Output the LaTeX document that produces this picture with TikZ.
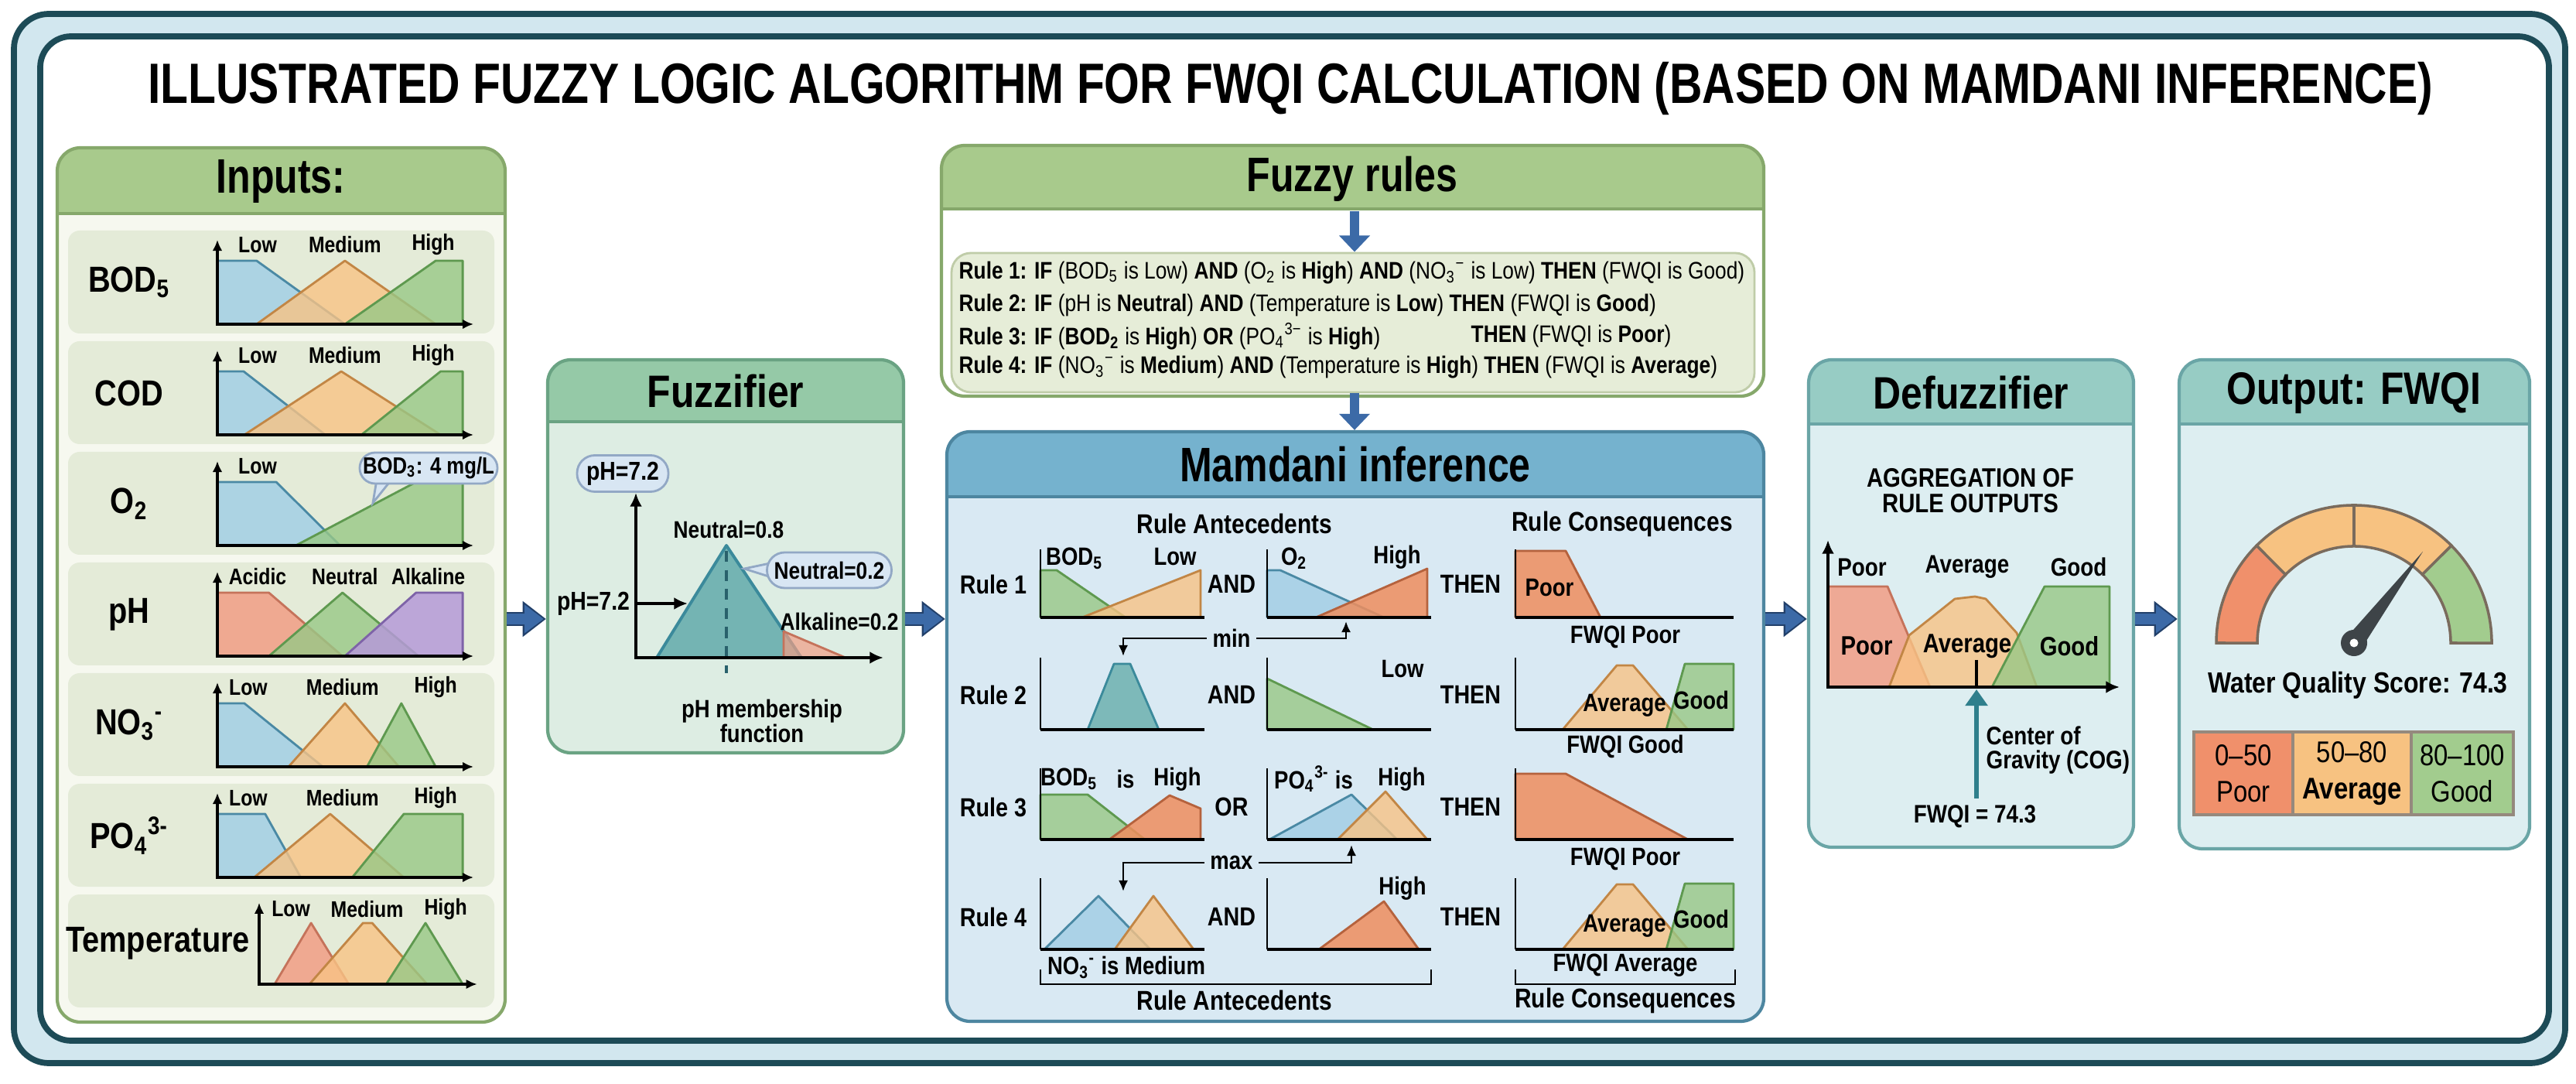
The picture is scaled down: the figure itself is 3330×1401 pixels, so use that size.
\documentclass[tikz,border=0pt]{standalone}
\usepackage{fontspec}
\setmainfont{Liberation Sans}[FakeStretch=0.85]
\newfontfamily\cnd{Liberation Sans}[FakeStretch=0.8]
\usetikzlibrary{arrows.meta,fit,calc}
\definecolor{frameD}{HTML}{1D4B57}
\definecolor{frameB}{HTML}{D2E7EF}
\definecolor{inpH}{HTML}{A8CA8C}
\definecolor{inpE}{HTML}{86A86B}
\definecolor{inpB}{HTML}{F6F8EF}
\definecolor{inpR}{HTML}{E4EBD8}
\definecolor{ruleBx}{HTML}{E6EDD8}
\definecolor{ruleBe}{HTML}{BFCCA8}
\definecolor{fuzH}{HTML}{95C9A7}
\definecolor{fuzB}{HTML}{DDEDE3}
\definecolor{fuzE}{HTML}{6AA383}
\definecolor{mamH}{HTML}{75B2CE}
\definecolor{mamB}{HTML}{D9E9F3}
\definecolor{mamE}{HTML}{4D86A0}
\definecolor{defH}{HTML}{97CCC4}
\definecolor{defB}{HTML}{DDEEF1}
\definecolor{defE}{HTML}{6AA5A6}
\definecolor{bluF}{HTML}{A3CFE5}
\definecolor{bluE}{HTML}{4A89A4}
\definecolor{orgF}{HTML}{F8C385}
\definecolor{orgE}{HTML}{C28645}
\definecolor{grnF}{HTML}{98C886}
\definecolor{grnE}{HTML}{5E994F}
\definecolor{redF}{HTML}{F29E85}
\definecolor{redE}{HTML}{C5735B}
\definecolor{purF}{HTML}{B69AD8}
\definecolor{purE}{HTML}{7E63A8}
\definecolor{mrdF}{HTML}{EF8E5E}
\definecolor{mrdE}{HTML}{B5623D}
\definecolor{tealF}{HTML}{74B4B3}
\definecolor{tealE}{HTML}{3B8A9B}
\definecolor{callF}{HTML}{D8E6F3}
\definecolor{callE}{HTML}{92A8C5}
\definecolor{arrB}{HTML}{3C6AA7}
\definecolor{arrD}{HTML}{22406A}
\definecolor{gRed}{HTML}{F0906B}
\definecolor{gOrg}{HTML}{F7C281}
\definecolor{gGrn}{HTML}{A2CC8E}
\definecolor{gEdge}{HTML}{7A6B5D}
\definecolor{needleC}{HTML}{3E4448}
\definecolor{cogT}{HTML}{2F7F8C}
\newcommand\fsz[1]{\fontsize{#1}{#1}\selectfont}
\newcommand\panelbox[9]{%
  \begin{scope}
    \clip[rounded corners=0.3cm] (#2,#3) rectangle (#4,#5);
    \fill[#8] (#2,#3) rectangle (#4,#5);
    \fill[#7] (#2,#3) rectangle (#4,#6);
    \draw[#9, line width=1pt] (#2,#6) -- (#4,#6);
  \end{scope}
  \node[fit={(#2,#3) (#4,#5)}, inner sep=0pt, draw=#9, line width=1.2pt, rounded corners=0.3cm] (#1) {};
}
\tikzset{
  ptitle/.style={font=\fsz{16.7}\bfseries, inner sep=0pt},
  ctitle/.style={font=\cnd\fsz{17.8}\bfseries, inner sep=0pt},
  rowlab/.style={font=\fsz{13.3}\bfseries, inner sep=0pt},
  mflab/.style={font=\fsz{8.3}\bfseries, inner sep=0pt},
  iaxis/.style={line width=1.1pt, {Latex[length=4pt,width=3.6pt]}-{Latex[length=4pt,width=3.6pt]}},
  mfB/.style={fill=bluF, draw=bluE, fill opacity=0.85, line width=0.8pt, line join=round},
  mfO/.style={fill=orgF, draw=orgE, fill opacity=0.8, line width=0.8pt, line join=round},
  mfG/.style={fill=grnF, draw=grnE, fill opacity=0.8, line width=0.8pt, line join=round},
  mfR/.style={fill=redF, draw=redE, fill opacity=0.85, line width=0.8pt, line join=round},
  mfP/.style={fill=purF, draw=purE, fill opacity=0.85, line width=0.8pt, line join=round},
  mfM/.style={fill=mrdF, draw=mrdE, fill opacity=0.85, line width=0.8pt, line join=round},
  mfT/.style={fill=tealF, draw=tealE, fill opacity=0.9, line width=0.8pt, line join=round},
  bigarrD/.style={line width=5.4pt, draw=arrD, -{Triangle[length=8.6pt,width=12.6pt]}},
  bigarr/.style={line width=4.0pt, draw=arrB, shorten >=0.9pt, -{Triangle[length=7pt,width=10pt]}},
  smarr/.style={line width=3.6pt, draw=arrB, -{Triangle[length=6pt,width=11pt]}},
  mlab/.style={font=\fsz{9.6}\bfseries, inner sep=0pt},
  glab/.style={font=\fsz{9.2}\bfseries, inner sep=0pt},
  rtxt/.style={font=\fsz{8.8}, inner sep=0pt},
  fztext/.style={font=\fsz{8.8}\bfseries, inner sep=0pt},
  yax/.style={line width=0.7pt},
  xax/.style={line width=1.4pt},
  minarr/.style={line width=0.8pt, -{Latex[length=4pt,width=3.5pt]}},
  callout/.style={fill=callF, draw=callE, line width=0.8pt, inner sep=0pt},
  dlab/.style={font=\fsz{9.3}\bfseries, inner sep=0pt},
}
\begin{document}
\begin{tikzpicture}[x=0.01cm, y=-0.01cm]
\useasboundingbox (0,0) rectangle (3330,1401);
\fill[white] (0,0) rectangle (3330,1401);
% frame
\draw[frameD, fill=frameB, line width=2.2pt, rounded corners=0.45cm] (18,18) rectangle (3316,1374);
\draw[frameD, fill=white, line width=2.2pt, rounded corners=0.4cm] (52,47) rectangle (3295,1345);
\node[font=\cnd\fsz{20.9}\bfseries, inner sep=0pt] (title) at (1668,115) {ILLUSTRATED FUZZY LOGIC ALGORITHM FOR FWQI CALCULATION (BASED ON MAMDANI INFERENCE)};

% ================= INPUTS =================
\panelbox{inp}{74}{191}{653}{1321}{276}{inpH}{inpB}{inpE}
\node[ctitle] (inpT) at (363,234) {Inputs:};
\foreach \t/\b in {298/431,441/574,584/717,727/860,870/1003,1013/1146,1156/1302}
  \fill[inpR, rounded corners=0.15cm] (88,\t) rectangle (639,\b);
\node[rowlab] (lBOD) at (167,365) {BOD\textsubscript{5}};
\node[rowlab] (lCOD) at (167,508) {COD};
\node[rowlab] (lO2) at (167,651) {O\textsubscript{2}};
\node[rowlab] (lpH) at (167,794) {pH};
\node[rowlab] (lNO3) at (167,937) {NO\textsubscript{3}\textsuperscript{-}};
\node[rowlab] (lPO4) at (167,1080) {PO\textsubscript{4}\textsuperscript{3-}};
\node[rowlab] (lTemp) at (204,1219) {Temperature};
% BOD5
\begin{scope}[shift={(281,419)}, x=0.0317cm, y=0.0082cm]
  \filldraw[mfB] (0,0) -- (0,100) -- (16,100) -- (52,0) -- cycle;
  \filldraw[mfO] (16,0) -- (52,100) -- (89,0) -- cycle;
  \filldraw[mfG] (52,0) -- (89,100) -- (100,100) -- (100,0) -- cycle;
  \draw[iaxis] (0,133) -- (0,0) -- (104.4,0);
  \node[mflab] (b1a) at (16.4,125) {Low};
  \node[mflab] (b1b) at (52,125) {Medium};
  \node[mflab] (b1c) at (88,125) {High};
\end{scope}
% COD
\begin{scope}[shift={(281,562)}, x=0.0317cm, y=0.0082cm]
  \filldraw[mfB] (0,0) -- (0,100) -- (10.7,100) -- (44,0) -- cycle;
  \filldraw[mfO] (11,0) -- (50.5,100) -- (91,0) -- cycle;
  \filldraw[mfG] (58.7,0) -- (91,100) -- (100,100) -- (100,0) -- cycle;
  \draw[iaxis] (0,133) -- (0,0) -- (104.4,0);
  \node[mflab] (b2a) at (16.4,125) {Low};
  \node[mflab] (b2b) at (52,125) {Medium};
  \node[mflab] (b2c) at (88,125) {High};
\end{scope}
% O2
\begin{scope}[shift={(281,705)}, x=0.0317cm, y=0.0082cm]
  \filldraw[mfB] (0,0) -- (0,100) -- (24,100) -- (50,0) -- cycle;
  \filldraw[mfG] (32,0) -- (81,100) -- (100,100) -- (100,0) -- cycle;
  \draw[iaxis] (0,133) -- (0,0) -- (104.4,0);
  \node[mflab] (b3a) at (16.4,125) {Low};
\end{scope}
\filldraw[callout] (487,620) -- (482,650) -- (506,620) -- cycle;
\node[callout, minimum width=1.78cm, minimum height=0.40cm, rounded corners=0.2cm, font=\fsz{8.6}\bfseries] (o2c) at (554,605) {BOD\textsubscript{3}: 4 mg/L};
% pH
\begin{scope}[shift={(281,848)}, x=0.0317cm, y=0.0082cm]
  \filldraw[mfR] (0,0) -- (0,100) -- (21,100) -- (51,0) -- cycle;
  \filldraw[mfG] (21,0) -- (51,100) -- (82,0) -- cycle;
  \filldraw[mfP] (52,0) -- (81,100) -- (100,100) -- (100,0) -- cycle;
  \draw[iaxis] (0,133) -- (0,0) -- (104.4,0);
  \node[mflab] (b4a) at (16.4,125) {Acidic};
  \node[mflab] (b4b) at (52,125) {Neutral};
  \node[mflab] (b4c) at (86,125) {Alkaline};
\end{scope}
% NO3
\begin{scope}[shift={(281,991)}, x=0.0317cm, y=0.0082cm]
  \filldraw[mfB] (0,0) -- (0,100) -- (11,100) -- (43,0) -- cycle;
  \filldraw[mfO] (29,0) -- (52,100) -- (74,0) -- cycle;
  \filldraw[mfG] (61,0) -- (75,100) -- (89,0) -- cycle;
  \draw[iaxis] (0,133) -- (0,0) -- (104.4,0);
  \node[mflab] (b5a) at (12.6,125) {Low};
  \node[mflab] (b5b) at (51,125) {Medium};
  \node[mflab] (b5c) at (89,125) {High};
\end{scope}
% PO4
\begin{scope}[shift={(281,1134)}, x=0.0317cm, y=0.0082cm]
  \filldraw[mfB] (0,0) -- (0,100) -- (19.5,100) -- (34,0) -- cycle;
  \filldraw[mfO] (15,0) -- (46,100) -- (76,0) -- cycle;
  \filldraw[mfG] (55,0) -- (76,100) -- (100,100) -- (100,0) -- cycle;
  \draw[iaxis] (0,133) -- (0,0) -- (104.4,0);
  \node[mflab] (b6a) at (12.6,125) {Low};
  \node[mflab] (b6b) at (51,125) {Medium};
  \node[mflab] (b6c) at (89,125) {High};
\end{scope}
% Temperature
\begin{scope}[shift={(335,1272)}, x=0.0263cm, y=0.0079cm]
  \filldraw[mfR] (7.6,0) -- (25.5,100) -- (44,0) -- cycle;
  \filldraw[mfO] (24.7,0) -- (51,100) -- (55.5,100) -- (82.5,0) -- cycle;
  \filldraw[mfG] (62.4,0) -- (81.7,100) -- (100,0) -- cycle;
  \draw[iaxis] (0,133) -- (0,0) -- (107,0);
  \node[mflab] (b7a) at (15.6,123) {Low};
  \node[mflab] (b7b) at (53,123) {Medium};
  \node[mflab] (b7c) at (91.6,123) {High};
\end{scope}

% ================= FUZZIFIER =================
\panelbox{fuz}{708}{465}{1168}{973}{545}{fuzH}{fuzB}{fuzE}
\node[ptitle] (fuzT) at (938,506) {Fuzzifier};
\node[callout, minimum width=1.18cm, minimum height=0.47cm, rounded corners=0.23cm, font=\fsz{9.5}\bfseries] (ph1) at (805,612) {pH=7.2};
\filldraw[mfT, fill opacity=1, line width=1.1pt] (849,850) -- (939,705) -- (1036,850) -- cycle;
\filldraw[mfR, fill opacity=0.7] (1013,816) -- (1093,850) -- (1013,850) -- cycle;
\draw[line width=1.3pt, tealE!70!black, dash pattern=on 4pt off 3pt] (939,712) -- (939,870);
\draw[line width=1.2pt, {Latex[length=5pt,width=4.5pt]}-{Latex[length=5pt,width=4.5pt]}] (822,637) -- (822,850) -- (1142,850);
\node[fztext] (n08) at (942,684) {Neutral=0.8};
\filldraw[callout] (1000,727) -- (962,735) -- (1000,747) -- cycle;
\node[callout, minimum width=1.61cm, minimum height=0.46cm, rounded corners=0.23cm, font=\fsz{8.8}\bfseries] (n02) at (1072,737) {Neutral=0.2};
\node[font=\fsz{9.5}\bfseries, inner sep=0pt] (ph2) at (767,780) {pH=7.2};
\coordinate (phs) at (823,780);
\coordinate (pht) at (889,780);
\draw[line width=1.1pt, -{Latex[length=5pt,width=4.5pt]}] (phs) -- (pht);
\node[fztext] (alk) at (1085,803) {Alkaline=0.2};
\node[font=\fontsize{9.2}{9.3}\selectfont\bfseries, align=center, inner sep=0pt] (phm) at (985,932) {pH membership\\function};

% ================= FUZZY RULES =================
\panelbox{rul}{1217}{188}{2280}{512}{270}{inpH}{white}{inpE}
\node[ctitle] (rulT) at (1748,231) {Fuzzy rules};
\node[fit={(1230,327) (2268,507)}, inner sep=0pt, fill=ruleBx, draw=ruleBe, line width=0.8pt, rounded corners=0.25cm] (rulBox) {};
\node[rtxt, anchor=west] (rule1) at (1239,353) {\textbf{Rule 1: IF} (BOD\textsubscript{5} is Low) \textbf{AND} (O\textsubscript{2} is \textbf{High}) \textbf{AND} (NO\textsubscript{3}\textsuperscript{−} is Low) \textbf{THEN} (FWQI is Good)};
\node[rtxt, anchor=west] (rule2) at (1239,395) {\textbf{Rule 2: IF} (pH is \textbf{Neutral}) \textbf{AND} (Temperature is \textbf{Low}) \textbf{THEN} (FWQI is \textbf{Good})};
\node[rtxt, anchor=west] (rule3) at (1239,435) {\textbf{Rule 3: IF} (\textbf{BOD\textsubscript{2}} is \textbf{High}) \textbf{OR} (PO\textsubscript{4}\textsuperscript{3−} is \textbf{High})};
\node[rtxt, anchor=west] (rule3b) at (1901,435) {\textbf{THEN} (FWQI is \textbf{Poor})};
\node[rtxt, anchor=west] (rule4) at (1239,475) {\textbf{Rule 4: IF} (NO\textsubscript{3}\textsuperscript{−} is \textbf{Medium}) \textbf{AND} (Temperature is \textbf{High}) \textbf{THEN} (FWQI is \textbf{Average})};
\coordinate (ra1) at (1751,273);
\draw[smarr] (ra1) -- (rulBox.north -| ra1);

% ================= MAMDANI =================
\panelbox{mam}{1224}{558}{2280}{1320}{642}{mamH}{mamB}{mamE}
\draw[smarr] (rulBox.south -| ra1) -- (mam.north -| ra1);
\node[ctitle] (mamT) at (1752,600) {Mamdani inference};
\node[mlab, font=\fsz{10}\bfseries] (ra) at (1596,677) {Rule Antecedents};
\node[mlab, font=\fsz{10}\bfseries] (rc) at (2097,677) {Rule Consequences};
\node[mlab] (rl1) at (1284,755) {Rule 1};
\node[mlab] (rl2) at (1284,898) {Rule 2};
\node[mlab] (rl3) at (1284,1043) {Rule 3};
\node[mlab] (rl4) at (1284,1185) {Rule 4};
\node[mlab] (op1) at (1592,755) {AND};
\node[mlab] (op2) at (1592,898) {AND};
\node[mlab] (op3) at (1592,1043) {OR};
\node[mlab] (op4) at (1592,1185) {AND};
\node[mlab] (th1) at (1901,755) {THEN};
\node[mlab] (th2) at (1901,898) {THEN};
\node[mlab] (th3) at (1901,1043) {THEN};
\node[mlab] (th4) at (1901,1185) {THEN};
% Rule 1
\filldraw[mfG] (1345,798) -- (1345,737) -- (1366,737) -- (1455,798) -- cycle;
\filldraw[mfO] (1399,798) -- (1552,737) -- (1552,798) -- cycle;
\draw[yax] (1345,710) -- (1345,798); \draw[xax] (1345,798) -- (1557,798);
\node[glab] (g1a) at (1389,722) {BOD\textsubscript{5}};
\node[glab] (g1b) at (1519,720) {Low};
\filldraw[mfB] (1638,798) -- (1638,737) -- (1655,737) -- (1789,798) -- cycle;
\filldraw[mfM] (1701,798) -- (1845,735) -- (1845,798) -- cycle;
\draw[yax] (1638,710) -- (1638,798); \draw[xax] (1638,798) -- (1850,798);
\node[glab] (g1c) at (1673,722) {O\textsubscript{2}};
\node[glab] (g1d) at (1806,720) {High};
\filldraw[mfM] (1959,798) -- (1959,712) -- (2024,712) -- (2069,798) -- cycle;
\draw[yax] (1959,710) -- (1959,798); \draw[xax] (1959,798) -- (2241,798);
\node[glab] (g1e) at (2003,760) {Poor};
\node[glab] (g1f) at (2101,823) {FWQI Poor};
\node[glab, inner sep=2pt] (minl) at (1592,825) {min};
\coordinate (minT1) at (1452,848);
\coordinate (minT2) at (1740,803);
\draw[minarr] (minl.west) -| (minT1);
\draw[minarr] (minl.east) -| (minT2);
% Rule 2
\filldraw[mfT] (1406,943) -- (1440,858) -- (1461,858) -- (1498,943) -- cycle;
\draw[yax] (1345,850) -- (1345,943); \draw[xax] (1345,943) -- (1557,943);
\filldraw[mfG] (1638,943) -- (1638,877) -- (1775,943) -- cycle;
\draw[yax] (1638,850) -- (1638,943); \draw[xax] (1638,943) -- (1850,943);
\node[glab] (g2a) at (1813,865) {Low};
\filldraw[mfO] (2020,943) -- (2090,860) -- (2111,860) -- (2182,943) -- cycle;
\filldraw[mfG] (2154,943) -- (2178,858) -- (2241,858) -- (2241,943) -- cycle;
\draw[yax] (1959,850) -- (1959,943); \draw[xax] (1959,943) -- (2241,943);
\node[glab] (g2b) at (2100,912) {Average};
\node[glab] (g2c) at (2199,905) {Good};
\node[glab] (g2d) at (2101,965) {FWQI Good};
% Rule 3
\filldraw[mfG] (1345,1085) -- (1345,1027) -- (1406,1027) -- (1480,1085) -- cycle;
\filldraw[mfM] (1434,1085) -- (1512,1028) -- (1552,1045) -- (1552,1085) -- cycle;
\draw[yax] (1345,993) -- (1345,1085); \draw[xax] (1345,1085) -- (1557,1085);
\node[glab] (g3a) at (1382,1007) {BOD\textsubscript{5}};
\node[glab] (g3b) at (1455,1007) {is};
\node[glab] (g3c) at (1522,1007) {High};
\filldraw[mfB] (1641,1085) -- (1747,1027) -- (1806,1085) -- cycle;
\filldraw[mfO] (1729,1085) -- (1791,1023) -- (1845,1085) -- cycle;
\draw[yax] (1638,993) -- (1638,1085); \draw[xax] (1638,1085) -- (1850,1085);
\node[glab] (g3d) at (1698,1007) {PO\textsubscript{4}\textsuperscript{3-} is};
\node[glab] (g3e) at (1812,1007) {High};
\filldraw[mfM] (1959,1085) -- (1959,1000) -- (2024,1000) -- (2182,1085) -- cycle;
\draw[yax] (1959,993) -- (1959,1085); \draw[xax] (1959,1085) -- (2241,1085);
\node[glab] (g3f) at (2101,1110) {FWQI Poor};
\node[glab, inner sep=2pt] (maxl) at (1592,1115) {max};
\coordinate (maxT1) at (1452,1152);
\coordinate (maxT2) at (1747,1092);
\draw[minarr] (maxl.west) -| (maxT1);
\draw[minarr] (maxl.east) -| (maxT2);
% Rule 4
\filldraw[mfB] (1350,1227) -- (1420,1158) -- (1487,1227) -- cycle;
\filldraw[mfO] (1441,1227) -- (1491,1158) -- (1543,1227) -- cycle;
\draw[yax] (1345,1135) -- (1345,1227); \draw[xax] (1345,1227) -- (1557,1227);
\node[glab] (g4a) at (1456,1250) {NO\textsubscript{3}\textsuperscript{-} is Medium};
\filldraw[mfM] (1705,1227) -- (1789,1165) -- (1834,1227) -- cycle;
\draw[yax] (1638,1135) -- (1638,1227); \draw[xax] (1638,1227) -- (1850,1227);
\node[glab] (g4b) at (1813,1148) {High};
\filldraw[mfO] (2020,1227) -- (2090,1143) -- (2111,1143) -- (2182,1227) -- cycle;
\filldraw[mfG] (2154,1227) -- (2178,1142) -- (2241,1142) -- (2241,1227) -- cycle;
\draw[yax] (1959,1135) -- (1959,1227); \draw[xax] (1959,1227) -- (2241,1227);
\node[glab] (g4c) at (2100,1197) {Average};
\node[glab] (g4d) at (2199,1188) {Good};
\node[glab] (g4e) at (2101,1248) {FWQI Average};
\draw[line width=0.6pt] (1345,1253) -- (1345,1272) -- (1850,1272) -- (1850,1253);
\draw[line width=0.6pt] (1959,1253) -- (1959,1272) -- (2243,1272) -- (2243,1253);
\node[mlab, font=\fsz{10}\bfseries] (ra2) at (1596,1293) {Rule Antecedents};
\node[mlab, font=\fsz{10}\bfseries] (rc2) at (2101,1293) {Rule Consequences};

% ================= DEFUZZIFIER =================
\panelbox{dfz}{2338}{465}{2758}{1095}{548}{defH}{defB}{defE}
\node[ptitle] (dfzT) at (2548,508) {Defuzzifier};
\node[dlab, font=\fsz{9.8}\bfseries] (agg1) at (2547,618) {AGGREGATION OF};
\node[dlab, font=\fsz{9.8}\bfseries] (agg2) at (2547,651) {RULE OUTPUTS};
\filldraw[mfR] (2363,888) -- (2363,758) -- (2440,758) -- (2495,888) -- cycle;
\filldraw[mfO] (2442,888) -- (2468,821) -- (2527,774) -- (2553,771) -- (2567,774) -- (2607,818) -- (2633,888) -- cycle;
\filldraw[mfG] (2575,888) -- (2643,758) -- (2727,758) -- (2727,888) -- cycle;
\draw[line width=1.2pt, {Latex[length=5pt,width=4.5pt]}-{Latex[length=5pt,width=4.5pt]}] (2363,698) -- (2363,888) -- (2740,888);
\node[dlab] (dp1) at (2407,733) {Poor};
\node[dlab] (da1) at (2543,733) {Average};
\node[dlab] (dg1) at (2687,733) {Good};
\node[dlab, font=\fsz{9.8}\bfseries] (dp2) at (2413,835) {Poor};
\node[dlab, font=\fsz{9.8}\bfseries] (da2) at (2543,835) {Average};
\node[dlab, font=\fsz{9.8}\bfseries] (dg2) at (2675,835) {Good};
\draw[line width=1.3pt] (2555,853) -- (2555,888);
\node[dlab, anchor=west] (cog1) at (2567,951) {Center of};
\node[dlab, anchor=west] (cog2) at (2567,985) {Gravity (COG)};
\node[dlab] (fwq) at (2553,1055) {FWQI = 74.3};
\coordinate (cogE) at (2555,891);
\draw[cogT, line width=1.6pt, -{Triangle[length=6pt,width=8pt]}] (fwq.north -| cogE) ++(0,-8) -- (cogE);

% ================= OUTPUT =================
\panelbox{out}{2817}{465}{3270}{1097}{548}{defH}{defB}{defE}
\node[ptitle] (outT) at (3043,508) {Output: FWQI};
\begin{scope}[shift={(3043,831)}, x=0.01cm, y=0.01cm]
  \filldraw[fill=gRed, draw=gEdge, line width=1pt] (180:178) arc[start angle=180, end angle=135, radius=1.78cm] -- (135:125) arc[start angle=135, end angle=180, radius=1.25cm] -- cycle;
  \filldraw[fill=gOrg, draw=gEdge, line width=1pt] (135:178) arc[start angle=135, end angle=45, radius=1.78cm] -- (45:125) arc[start angle=45, end angle=135, radius=1.25cm] -- cycle;
  \filldraw[fill=gGrn, draw=gEdge, line width=1pt] (45:178) arc[start angle=45, end angle=0, radius=1.78cm] -- (0:125) arc[start angle=0, end angle=45, radius=1.25cm] -- cycle;
  \draw[gEdge, line width=1pt] (90:125) -- (90:178);
  \fill[needleC] (53:148) -- (143:12) -- (-37:12) -- cycle;
  \fill[needleC] (0,0) circle (0.17cm);
  \fill[white] (0,0) circle (0.055cm);
\end{scope}
\node[font=\fsz{10.7}\bfseries, inner sep=0pt] (wqs) at (3048,886) {Water Quality Score: 74.3};
\tikzset{lgbox/.style={draw=gEdge!80, line width=0.9pt, minimum height=1.07cm, inner sep=0pt, align=center, font=\fontsize{11}{13.4}\selectfont}}
\node[lgbox, fill=gRed, minimum width=1.28cm] (lg1) at (2900,999.5) {0–50\\Poor};
\node[lgbox, fill=gOrg, minimum width=1.53cm] (lg2) at (3040.5,999.5) {50–80\\\textbf{Average}};
\node[lgbox, fill=gGrn, minimum width=1.32cm] (lg3) at (3183,999.5) {80–100\\Good};

% ================= ARROWS =================
\coordinate (ay) at (0,800);
\draw[bigarrD] (inp.east |- ay) -- (fuz.west |- ay);
\draw[bigarr] (inp.east |- ay) -- (fuz.west |- ay);
\draw[bigarrD] (fuz.east |- ay) -- (mam.west |- ay);
\draw[bigarr] (fuz.east |- ay) -- (mam.west |- ay);
\draw[bigarrD] (mam.east |- ay) -- (dfz.west |- ay);
\draw[bigarr] (mam.east |- ay) -- (dfz.west |- ay);
\draw[bigarrD] (dfz.east |- ay) -- (out.west |- ay);
\draw[bigarr] (dfz.east |- ay) -- (out.west |- ay);
\end{tikzpicture}
\end{document}
